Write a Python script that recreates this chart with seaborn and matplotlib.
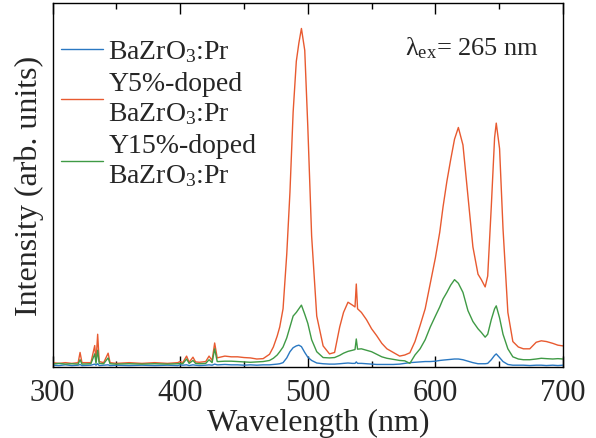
import numpy as np
import pandas as pd
import matplotlib
matplotlib.use("Agg")
import matplotlib.pyplot as plt
import seaborn as sns
from matplotlib.ticker import MultipleLocator

sns.set_theme(style="ticks")
plt.rcParams['font.family'] = ['Liberation Serif', 'DejaVu Serif']
plt.rcParams['mathtext.fontset'] = 'custom'
plt.rcParams['mathtext.rm'] = 'Liberation Serif'
plt.rcParams['mathtext.it'] = 'Liberation Serif:italic'

# ---------------- data ----------------
wavelength = [300, 305, 310, 315, 320, 321.5, 323, 330, 333, 334, 335.3, 336.5, 340, 343.5, 345,
              350, 360, 370, 380, 390, 398, 400, 402, 405, 407, 410, 412, 415, 420, 422.6, 425,
              427, 429, 430, 435, 440, 445, 450, 455, 460, 465, 470, 473, 476, 478, 480.6, 483.5,
              486, 488.5, 491, 493, 495, 497.6, 500, 503, 507, 512, 517, 521, 525, 528, 531.5,
              535, 537, 538, 539, 542, 546, 550, 554, 558, 562, 567, 572, 576, 580, 584, 588,
              592, 596, 600, 603.4, 606, 609, 612, 615, 618, 621.6, 625.5, 629.4, 633.4, 636,
              639, 641, 643.8, 646.4, 647.7, 650.3, 653, 656.8, 660.7, 665, 669, 674, 679, 683,
              687, 692, 696, 700]

blue = [0.5, 0.4, 0.6, 0.4, 0.5, 0.7, 0.4, 0.5, 0.8, 0.5, 0.9, 0.4, 0.5, 0.6, 0.4,
        0.5, 0.4, 0.5, 0.4, 0.5, 0.4, 0.6, 0.5, 0.6, 0.4, 0.6, 0.5, 0.4, 0.5, 0.6, 0.5,
        0.8, 0.6, 0.6, 0.7, 0.6, 0.6, 0.5, 0.6, 0.5, 0.6, 0.6, 0.7, 0.8, 0.9, 1.2, 2.5,
        4.2, 5.3, 5.8, 6.0, 5.6, 4.0, 2.7, 1.8, 1.1, 0.9, 0.8, 0.8, 0.9, 1.0, 1.1,
        1.0, 1.0, 1.4, 1.0, 1.0, 0.9, 0.8, 0.7, 0.7, 0.7, 0.7, 0.8, 1.0, 1.2, 1.3, 1.4,
        1.5, 1.5, 1.6, 1.8, 1.9, 2.0, 2.1, 2.2, 2.2, 2.0, 1.6, 1.2, 0.9, 0.9,
        0.9, 1.0, 2.0, 3.2, 3.6, 2.6, 1.5, 0.7, 0.5, 0.5, 0.5, 0.4, 0.5, 0.5,
        0.4, 0.5, 0.4, 0.5]

red = [1.2, 1.0, 1.2, 1.0, 1.2, 4.0, 1.2, 1.2, 5.9, 1.5, 9.0, 1.5, 1.2, 3.8, 1.2,
       1.0, 1.2, 1.0, 1.2, 1.0, 1.2, 1.5, 1.2, 3.0, 1.3, 2.7, 1.4, 1.3, 1.5, 3.0, 1.8,
       6.6, 2.5, 2.6, 3.0, 2.8, 2.8, 2.6, 2.5, 2.2, 2.3, 3.5, 5.5, 8.5, 11.0, 16.0, 31.0,
       48.0, 70.0, 84.0, 89.0, 93.0, 87.0, 66.0, 36.0, 14.0, 5.8, 3.6, 4.0, 11.0, 15.0, 17.8,
       17.0, 16.5, 22.8, 16.0, 15.0, 13.0, 10.5, 8.6, 6.5, 5.0, 4.0, 3.0, 3.3, 3.9, 7.0, 11.4,
       16.0, 23.0, 30.0, 37.0, 44.0, 51.0, 57.0, 62.6, 65.8, 61.0, 47.0, 33.0, 25.5, 24.0,
       22.0, 25.0, 44.0, 63.0, 67.0, 60.0, 38.0, 15.0, 7.0, 5.5, 5.0, 5.0, 6.8, 7.2,
       7.0, 6.5, 6.0, 5.8]

green = [0.8, 1.0, 0.8, 0.9, 0.8, 2.0, 0.8, 0.9, 3.6, 1.0, 4.6, 1.0, 0.9, 2.5, 0.9,
         0.8, 0.9, 0.8, 0.9, 0.8, 0.9, 1.0, 0.9, 2.2, 1.0, 1.8, 1.0, 0.9, 1.0, 2.0, 1.2,
         5.0, 1.5, 1.5, 1.6, 1.6, 1.5, 1.4, 1.3, 1.4, 1.5, 1.8, 2.4, 3.3, 4.2, 5.5, 8.0,
         11.0, 14.0, 15.0, 16.0, 17.0, 14.5, 12.0, 7.5, 4.2, 2.6, 2.5, 2.6, 3.2, 3.8, 4.3,
         4.6, 4.8, 7.7, 4.9, 5.0, 4.6, 4.2, 3.5, 2.8, 2.4, 2.1, 1.8, 1.7, 1.0, 3.3, 5.0,
         7.5, 11.0, 14.0, 16.5, 18.7, 20.5, 22.5, 24.0, 23.0, 20.5, 15.5, 12.5, 10.5, 9.5,
         8.2, 9.0, 13.0, 16.0, 16.8, 13.5, 9.0, 5.0, 2.8, 2.2, 2.0, 2.0, 2.2, 2.4,
         2.3, 2.2, 2.3, 2.2]

labels = ["BaZrO$_3$:Pr", "Y5%-doped\nBaZrO$_3$:Pr", "Y15%-doped\nBaZrO$_3$:Pr"]
colors = ["#2a78c2", "#e85a30", "#3f9a45"]

df = pd.concat([
    pd.DataFrame({"wl": wavelength, "I": vals, "sample": lab})
    for vals, lab in zip([blue, red, green], labels)
], ignore_index=True)

# ---------------- figure ----------------
fig = plt.figure(figsize=(5.96, 4.39), dpi=100)
ax = fig.add_axes([0.0883, 0.1617, 0.8563, 0.8292])

sns.lineplot(data=df, x="wl", y="I", hue="sample", hue_order=labels,
             palette=dict(zip(labels, colors)), linewidth=1.0, ax=ax,
             estimator=None, sort=False)

ax.set_xlim(300, 700)
ax.set_ylim(0, 100)
ax.set_yticks([])
ax.xaxis.set_major_locator(MultipleLocator(100))
ax.xaxis.set_minor_locator(MultipleLocator(50))
ax.tick_params(axis='x', which='both', direction='in', top=True, bottom=True,
               labelsize=22, width=1.0, color='black', pad=8)
ax.tick_params(axis='x', which='major', length=8)
ax.tick_params(axis='x', which='minor', length=4.5)
for s in ax.spines.values():
    s.set_linewidth(1.0)
    s.set_color('black')

ax.set_xlabel("Wavelength (nm)", fontsize=23)
ax.xaxis.set_label_coords(0.52, -0.172)
ax.xaxis.label.set_va("baseline")
ax.set_ylabel("Intensity (arb. units)", fontsize=23, labelpad=6)

handles, labs = ax.get_legend_handles_labels()
ax.legend(handles, labs, loc="upper left", bbox_to_anchor=(0.0, 0.925),
          frameon=False, fontsize=20, handlelength=1.5, handletextpad=0.2,
          labelspacing=0.25, borderaxespad=0.2, borderpad=0.1)

ax.text(0.69, 0.86, r"λ$_{\rm ex}$= 265 nm", transform=ax.transAxes,
        fontsize=19, ha="left", va="baseline")

fig.savefig("out.png", dpi=100)
